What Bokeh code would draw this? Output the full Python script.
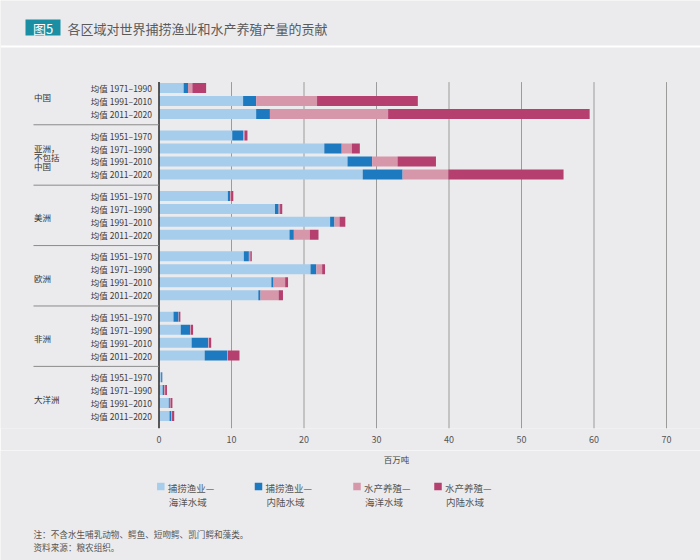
from bokeh.plotting import figure
from bokeh.models import Range1d, FixedTicker, ColumnDataSource
from bokeh.layouts import column
from bokeh.embed import file_html
from bokeh.resources import INLINE
from bokeh.core.properties import value

# ---------------- data ----------------
region_lines = [["中国"], ["亚洲，", "不包括", "中国"], ["美洲"], ["欧洲"], ["非洲"], ["大洋洲"]]
periods = [
    ["均值 1971–1990", "均值 1991–2010", "均值 2011–2020"],
    ["均值 1951–1970", "均值 1971–1990", "均值 1991–2010", "均值 2011–2020"],
    ["均值 1951–1970", "均值 1971–1990", "均值 1991–2010", "均值 2011–2020"],
    ["均值 1951–1970", "均值 1971–1990", "均值 1991–2010", "均值 2011–2020"],
    ["均值 1951–1970", "均值 1971–1990", "均值 1991–2010", "均值 2011–2020"],
    ["均值 1951–1970", "均值 1971–1990", "均值 1991–2010", "均值 2011–2020"],
]
# million tonnes, one value per row (top to bottom)
capture_marine = [3.4, 11.6, 13.4, 10.1, 22.8, 26.0, 28.1, 9.5, 16.0, 23.6, 18.0,
                  11.7, 20.9, 15.5, 13.7, 2.0, 3.0, 4.5, 6.3, 0.3, 0.5, 1.35, 1.45]
capture_inland = [0.6, 1.8, 1.9, 1.5, 2.4, 3.4, 5.5, 0.3, 0.5, 0.6, 0.6,
                  0.7, 0.8, 0.3, 0.3, 0.7, 1.3, 2.3, 3.1, 0.15, 0.2, 0.15, 0.25]
aqua_marine = [0.6, 8.4, 16.3, 0.2, 1.4, 3.5, 6.3, 0.15, 0.2, 0.7, 2.2,
               0.2, 0.8, 1.6, 2.5, 0.05, 0.1, 0.1, 0.1, 0.02, 0.15, 0.1, 0.1]
aqua_inland = [1.9, 13.9, 27.8, 0.4, 1.1, 5.3, 15.9, 0.3, 0.3, 0.8, 1.2,
               0.2, 0.4, 0.4, 0.6, 0.2, 0.3, 0.3, 1.6, 0.0, 0.25, 0.25, 0.3]

x_ticks = [0, 10, 20, 30, 40, 50, 60, 70]
x_tick_labels = ["0", "10", "20", "30", "40", "50", "60", "70"]
axis_title = "百万吨"
legend_line1 = ["捕捞渔业—", "捕捞渔业—", "水产养殖—", "水产养殖—"]
legend_line2 = ["海洋水域", "内陆水域", "海洋水域", "内陆水域"]
title_tag = "图5"
title_text = "各区域对世界捕捞渔业和水产养殖产量的贡献"
notes = ["注：不含水生哺乳动物、鳄鱼、短吻鳄、凯门鳄和藻类。", "资料来源：粮农组织。"]

# ---------------- style / layout ----------------
colors = ["#a6cdeb", "#1d7ac1", "#d697ab", "#b5406f"]
BG = "#ebebed"
FONT = value("Noto Sans CJK SC")
W = 700
H1 = 450
FRAME_H = 428
PX0 = 158.5      # pixel of x = 0
PXU = 7.25       # pixels per million tonnes
PITCH = 12.95
GAP = 8.6
ROW0 = 87.6
BAR_H = 10


def sx(px):
    return (px - PX0) / PXU


# row positions
ys, row_labels, grp_first, grp_last = [], [], [], []
y = ROW0
for gi, per in enumerate(periods):
    if gi > 0:
        y += GAP
    grp_first.append(y)
    for j, lab in enumerate(per):
        ys.append(y)
        row_labels.append(lab)
        last = y
        y += PITCH
    grp_last.append(last)
    y = last + PITCH

src = ColumnDataSource(dict(y=ys, cm=capture_marine, ci=capture_inland,
                            am=aqua_marine, ai=aqua_inland))

p = figure(width=W, height=H1,
           x_range=Range1d(sx(0), sx(W)), y_range=Range1d(FRAME_H, 0),
           output_backend="svg", toolbar_location=None, y_axis_location=None,
           min_border_left=0, min_border_right=0, min_border_top=0, min_border_bottom=22,
           background_fill_color=BG, border_fill_color=BG, outline_line_color=None)
p.grid.visible = False

ax = p.xaxis[0]
ax.ticker = FixedTicker(ticks=x_ticks)
ax.major_label_overrides = {t: l for t, l in zip(x_ticks, x_tick_labels)}
ax.axis_line_color = None
ax.major_tick_line_color = None
ax.minor_tick_line_color = None
ax.major_tick_out = 0
ax.major_tick_in = 0
ax.major_label_standoff = 7
ax.major_label_text_font = "Noto Sans CJK SC"
ax.major_label_text_font_size = "9px"
ax.major_label_text_color = "#555555"

# title band
p.quad(left=[sx(25)], right=[sx(60)], top=[19], bottom=[35], color="#1a8ea3", line_color=None)
p.text(x=[sx(42.5)], y=[27.5], text=[title_tag], text_align="center", text_baseline="middle",
       text_font=FONT, text_font_size=value("13px"), text_color="white")
p.text(x=[sx(67)], y=[27.5], text=[title_text], text_align="left", text_baseline="middle",
       text_font=FONT, text_font_size=value("13px"), text_color="#5a5a5a")
p.segment(x0=[sx(0)], x1=[sx(W)], y0=[46], y1=[46], line_color="white", line_width=2)

# gridlines and axis line
top_line = ys[0] - BAR_H / 2 - 1
p.segment(x0=x_ticks[1:], x1=x_ticks[1:], y0=[top_line] * (len(x_ticks) - 1),
          y1=[FRAME_H] * (len(x_ticks) - 1), line_color="#9b9b9b", line_width=1)

# stacked bars
p.hbar_stack(["cm", "ci", "am", "ai"], y="y", height=BAR_H, color=colors,
             line_color=None, source=src)

p.segment(x0=[0], x1=[0], y0=[top_line], y1=[FRAME_H], line_color="#333333", line_width=1.6)

# period labels
p.text(x=[0] * len(ys), y=ys, text=row_labels, x_offset=-7, text_align="right",
       text_baseline="middle", text_font=FONT, text_font_size=value("8.5px"),
       text_color="#3a3a3a")

# group separators
seps = [(grp_last[i] + grp_first[i + 1]) / 2 for i in range(len(periods) - 1)]
p.segment(x0=[sx(33)] * len(seps), x1=[0] * len(seps), y0=seps, y1=seps,
          line_color="#8a8a8a", line_width=1)

# region labels
rx, ry, rt = [], [], []
for gi, lines in enumerate(region_lines):
    n = len(periods[gi])
    cy = grp_first[gi] + (n - 2.5) * PITCH + 2
    LH = 9
    for k, t in enumerate(lines):
        rx.append(sx(33.5))
        ry.append(cy + (k - (len(lines) - 1) / 2) * LH)
        rt.append(t)
p.text(x=rx, y=ry, text=rt, text_align="left", text_baseline="middle",
       text_font=FONT, text_font_size=value("8.5px"), text_color="#333333")

# ---------------- bottom panel: axis title, legend, notes ----------------
q = figure(width=W, height=560 - H1, x_range=Range1d(0, W), y_range=Range1d(560, H1),
           output_backend="svg", toolbar_location=None,
           x_axis_location=None, y_axis_location=None,
           min_border=0, min_border_left=0, min_border_right=0, min_border_top=0,
           min_border_bottom=0,
           background_fill_color=BG, border_fill_color=BG, outline_line_color=None)
q.grid.visible = False

q.text(x=[396], y=[458], text=[axis_title], text_align="center", text_baseline="middle",
       text_font=FONT, text_font_size=value("8.5px"), text_color="#444444")

leg_x = [160.3, 258.0, 356.5, 437.5]
q.rect(x=leg_x, y=[486] * 4, width=7.5, height=7.5, color=colors, line_color=None)
q.text(x=[v + 7 for v in leg_x], y=[487] * 4, text=legend_line1, text_align="left",
       text_baseline="middle", text_font=FONT, text_font_size=value("9.5px"),
       text_color="#555555")
q.text(x=[v + 8 for v in leg_x], y=[501] * 4, text=legend_line2, text_align="left",
       text_baseline="middle", text_font=FONT, text_font_size=value("9.5px"),
       text_color="#555555")

q.text(x=[33, 33], y=[533, 546], text=notes, text_align="left", text_baseline="middle",
       text_font=FONT, text_font_size=value("8.6px"), text_color="#555555")

layout = column(p, q, spacing=0)
open("out.html", "w").write(file_html(layout, INLINE))
